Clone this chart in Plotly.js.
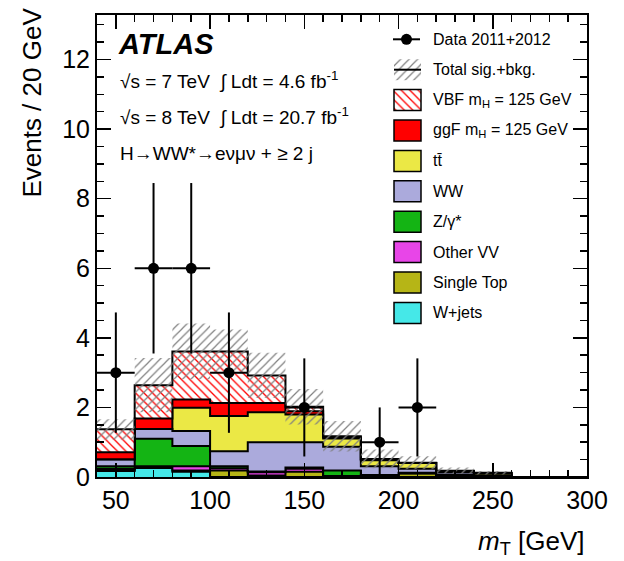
<!DOCTYPE html>
<html><head><meta charset="utf-8">
<script src="https://cdn.plot.ly/plotly-3.0.1.min.js"></script>
<style>html,body{margin:0;padding:0;background:#fff}#plot{width:624px;height:561px}</style>
</head><body><div id="plot"></div>
<script>
// ---- data ----
const binEdges  = [40,60,80,100,120,140,160,180,200,220,240,260,280,300];
const wjets     = [0.17,0.26,0.15,0,   0,   0,   0,   0,   0,   0,   0,   0,0];
const singleTop = [0.04,0.02,0.04,0.19,0.04,0.15,0.02,0.04,0.10,0.04,0.01,0,0];
const otherVV   = [0.03,0.03,0.12,0.06,0.10,0.09,0.01,0.01,0.01,0.01,0,   0,0];
const zgamma    = [0.07,0.79,0.58,0.06,0.02,0.03,0.16,0.01,0.01,0.01,0,   0,0];
const ww        = [0.19,0.28,0.43,0.43,0.84,0.73,0.68,0.25,0.12,0.07,0.04,0,0];
const ttbar     = [0.01,0.00,0.67,1.01,0.86,0.80,0.24,0.17,0.16,0.04,0.06,0,0];
const ggf       = [0.20,0.30,0.24,0.38,0.27,0.09,0.03,0.02,0.005,0,  0,   0,0];
const vbf       = [0.66,0.96,1.38,1.48,0.79,0.13,0.03,0.02,0.005,0.01,0.01,0,0];
const totalUnc  = [0.29,0.78,0.80,0.63,0.65,0.51,0.44,0.27,0.19,0.09,0.05,0,0];

const dataX    = [50,70,90,110,150,190,210];
const dataY    = [3,6,6,3,2,1,2];
const dataErrY = [1.73,2.45,2.45,1.73,1.41,1.0,1.41];
const dataErrX = [10,10,10,10,10,10,10];

const xTicks = [50,100,150,200,250,300];
const yTicks = [0,2,4,6,8,10,12];

const legendLabels = ['Data 2011+2012','Total sig.+bkg.','VBF m<sub>H</sub> = 125 GeV','ggF m<sub>H</sub> = 125 GeV',
  'tt\u0304','WW','Z/\u03b3*','Other VV','Single Top','W+jets'];

// ---- styles ----
const FONT = 'Liberation Sans, Arial, Helvetica, sans-serif';
const RED_HATCH = {shape:'\\', fgcolor:'#ff0000', bgcolor:'#ffffff', size:6, solidity:0.22};
const GRAY_HATCH = {shape:'/', fgcolor:'#808080', bgcolor:'rgba(0,0,0,0)', size:6, solidity:0.2};
const layers = [
  {vals: wjets,     color:'#45e8e8'},
  {vals: singleTop, color:'#b6b516'},
  {vals: otherVV,   color:'#e845e8'},
  {vals: zgamma,    color:'#14b414'},
  {vals: ww,        color:'#abaadc'},
  {vals: ttbar,     color:'#ebe845'},
  {vals: ggf,       color:'#ff0000'},
  {vals: vbf,       color:'#ffffff', pattern:RED_HATCH}
];
const legendColors = [null,null,null,'#ff0000','#ebe845','#abaadc','#14b414','#e845e8','#b6b516','#45e8e8'];

function stepY(v){ return v.concat([v[v.length-1]]); }

const traces = [];
let cum = new Array(binEdges.length-1).fill(0);
layers.forEach((L,i)=>{
  cum = cum.map((c,j)=>c+L.vals[j]);
  const t = {type:'scatter', mode:'lines', x:binEdges, y:stepY(cum),
    line:{shape:'hv', color:'#000', width:2}, fill: i===0?'tozeroy':'tonexty',
    fillcolor:L.color, hoverinfo:'skip', showlegend:false};
  if (L.pattern) t.fillpattern = L.pattern;
  traces.push(t);
});
const total = cum.slice();
traces.push({type:'scatter', mode:'lines', x:binEdges, y:stepY(total.map((c,j)=>c-totalUnc[j])),
  line:{shape:'hv', width:0, color:'rgba(0,0,0,0)'}, hoverinfo:'skip', showlegend:false});
traces.push({type:'scatter', mode:'lines', x:binEdges, y:stepY(total.map((c,j)=>c+totalUnc[j])),
  line:{shape:'hv', width:0, color:'rgba(0,0,0,0)'}, fill:'tonexty', fillcolor:'rgba(0,0,0,0)',
  fillpattern:GRAY_HATCH, hoverinfo:'skip', showlegend:false});
traces.push({type:'scatter', mode:'markers', x:dataX, y:dataY,
  marker:{color:'#000', size:11},
  error_y:{type:'data', array:dataErrY, color:'#000', thickness:2, width:0},
  error_x:{type:'data', array:dataErrX, color:'#000', thickness:2, width:0},
  hoverinfo:'skip', showlegend:false});

// ---- custom legend (overlay axes in plot pixel units) ----
const PW = 490, PH = 462;
const rowTop = 24.3, rowStep = 30.4, swX = 310.5, swW = 27, swH = 21, txtX = 334;
const rows = legendLabels.map((_,i)=>rowTop + i*rowStep);
const solidIdx = [3,4,5,6,7,8,9];
function swatch(idx, marker){
  return {type:'bar', xaxis:'x2', yaxis:'y2', x:idx.map(()=>swX), width:idx.map(()=>swW),
    base:idx.map(i=>rows[i]-swH/2), y:idx.map(()=>swH), marker:marker, hoverinfo:'skip', showlegend:false};
}
traces.push(swatch(solidIdx, {color:solidIdx.map(i=>legendColors[i]), line:{color:'#000', width:1.5}}));
traces.push(swatch([2], {color:'#ffffff', line:{color:'#000', width:1.5}, pattern:RED_HATCH}));
traces.push(swatch([1], {color:'rgba(0,0,0,0)', line:{width:0}, pattern:GRAY_HATCH}));
traces.push({type:'scatter', mode:'lines', xaxis:'x2', yaxis:'y2', x:[swX-swW/2, swX+swW/2], y:[rows[1],rows[1]],
  line:{color:'#000', width:2}, hoverinfo:'skip', showlegend:false});
traces.push({type:'scatter', mode:'markers', xaxis:'x2', yaxis:'y2', x:[swX-1], y:[rows[0]],
  marker:{color:'#000', size:11}, error_x:{type:'data', array:[13.5], color:'#000', thickness:2, width:0},
  hoverinfo:'skip', showlegend:false});

const annotations = legendLabels.map((t,i)=>({xref:'x2', yref:'y2', x:txtX, y:rows[i], text:t,
  showarrow:false, xanchor:'left', yanchor:'middle', font:{family:FONT, size:16, color:'#000'}}));
annotations.push({xref:'x2', yref:'y2', x:19, y:28.5, text:'<b><i>ATLAS</i></b>', showarrow:false,
  xanchor:'left', yanchor:'middle', font:{family:FONT, size:29, color:'#000'}});
const infoLines = ['\u221as = 7 TeV  \u222b Ldt = 4.6 fb<sup>-1</sup>',
                   '\u221as = 8 TeV  \u222b Ldt = 20.7 fb<sup>-1</sup>',
                   'H\u2192WW*\u2192e\u03bd\u03bc\u03bd + \u2265 2 j'];
[65,101.7,138.3].forEach((y,i)=>annotations.push({xref:'x2', yref:'y2', x:21, y:y, text:infoLines[i],
  showarrow:false, xanchor:'left', yanchor:'middle', font:{family:FONT, size:19, color:'#000'}}));
annotations.push({xref:'paper', yref:'paper', x:-0.133, y:1.02, text:'Events / 20 GeV', textangle:-90,
  showarrow:false, xanchor:'center', yanchor:'top', font:{family:FONT, size:26, color:'#000'}});
annotations.push({xref:'paper', yref:'paper', x:1, y:-0.142, text:'<i>m</i><sub>T</sub> [GeV]',
  showarrow:false, xanchor:'right', yanchor:'middle', font:{family:FONT, size:26, color:'#000'}});

const axCommon = {showline:true, linecolor:'#000', linewidth:2, mirror:'allticks', ticks:'inside',
  tickcolor:'#000', tickwidth:1.5, ticklen:14, showgrid:false, zeroline:false,
  tickfont:{family:FONT, size:25, color:'#000'}, fixedrange:true};
const layout = {
  width:624, height:561, margin:{l:97, r:37, t:15, b:84},
  paper_bgcolor:'#fff', plot_bgcolor:'#fff', showlegend:false, barmode:'overlay',
  font:{family:FONT, color:'#000'},
  xaxis: Object.assign({}, axCommon, {range:[40,300], tickvals:xTicks, ticktext:xTicks.map(String),
    minor:{dtick:10, tick0:0, ticks:'inside', ticklen:7, tickwidth:1.5, tickcolor:'#000', showgrid:false}}),
  yaxis: Object.assign({}, axCommon, {range:[0,13.28], tickvals:yTicks, ticktext:yTicks.map(String),
    minor:{dtick:0.5, tick0:0, ticks:'inside', ticklen:7, tickwidth:1.5, tickcolor:'#000', showgrid:false}}),
  xaxis2:{overlaying:'x', anchor:'y2', range:[0,PW], visible:false, fixedrange:true},
  yaxis2:{overlaying:'y', anchor:'x2', range:[PH,0], visible:false, fixedrange:true},
  annotations: annotations
};
Plotly.newPlot('plot', traces, layout, {staticPlot:true, displayModeBar:false});
</script></body></html>
